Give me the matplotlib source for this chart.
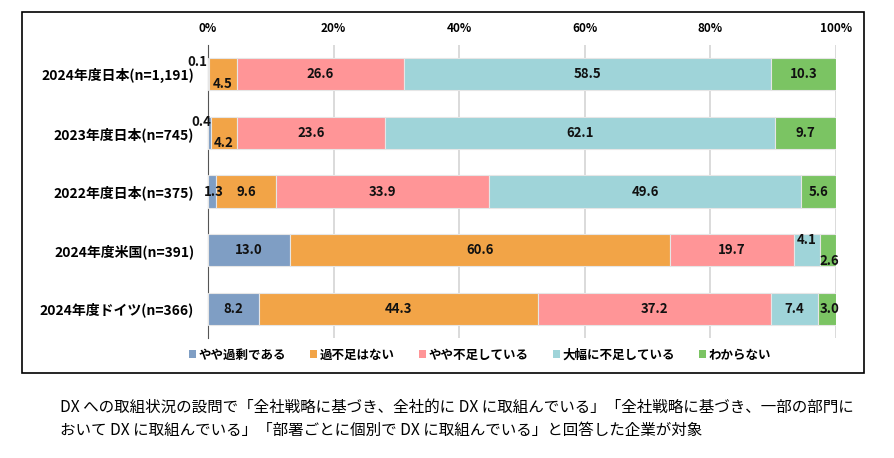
import numpy as np
import matplotlib.pyplot as plt
from matplotlib.patches import Rectangle, Patch

plt.rcParams['font.family'] = ['Noto Sans CJK JP', 'DejaVu Sans']

# データ
categories = ['2024年度日本(n=1,191)', '2023年度日本(n=745)', '2022年度日本(n=375)',
              '2024年度米国(n=391)', '2024年度ドイツ(n=366)']
series = ['やや過剰である', '過不足はない', 'やや不足している', '大幅に不足している', 'わからない']
values = [
    [0.1, 4.5, 26.6, 58.5, 10.3],
    [0.4, 4.2, 23.6, 62.1, 9.7],
    [1.3, 9.6, 33.9, 49.6, 5.6],
    [13.0, 60.6, 19.7, 4.1, 2.6],
    [8.2, 44.3, 37.2, 7.4, 3.0],
]
colors = ['#7f9ec4', '#f2a447', '#ff9597', '#9fd4d9', '#7bc463']
caption = ('DX への取組状況の設問で「全社戦略に基づき、全社的に DX に取組んでいる」「全社戦略に基づき、一部の部門に\n'
           'おいて DX に取組んでいる」「部署ごとに個別で DX に取組んでいる」と回答した企業が対象')

# 小さい値のラベル位置のずらし (points)
offsets = {
    (0, 0): (-8, 9), (0, 1): (0, -7),
    (1, 0): (-6, 8), (1, 1): (0, -7),
    (2, 0): (1, 0),
    (3, 3): (0, 7), (3, 4): (1, -8),
    (4, 4): (2, 0),
}

fig = plt.figure(figsize=(8.95, 4.58), dpi=100)
ax = fig.add_axes([208 / 895, 1 - 338 / 458, 628 / 895, 293 / 458])

data = np.array(values)
left = np.zeros(len(categories))
y = np.arange(len(categories))
for j, name in enumerate(series):
    ax.barh(y, data[:, j], left=left, height=0.55, color=colors[j],
            edgecolor='#e6e6e6', linewidth=0.8, label=name, zorder=3)
    for i in range(len(categories)):
        dx, dy = offsets.get((i, j), (0, 0))
        ax.annotate(f'{data[i, j]:.1f}', (left[i] + data[i, j] / 2, y[i]),
                    xytext=(dx, dy), textcoords='offset points',
                    ha='center', va='center', fontsize=9.5, fontweight='bold',
                    color='#111111', zorder=5)
    left += data[:, j]

ax.set_xlim(0, 100)
ax.set_ylim(len(categories) - 0.5, -0.5)
ax.set_xticks(np.arange(0, 101, 20))
ax.set_xticklabels([f'{v}%' for v in range(0, 101, 20)], fontsize=8.5, fontweight='bold')
ax.xaxis.tick_top()
ax.tick_params(axis='x', length=0, pad=7)
ax.tick_params(axis='y', length=0, pad=10)
ax.set_yticks(y)
ax.set_yticklabels(categories, fontsize=10, fontweight='bold')
ax.grid(axis='x', color='#d4d4d4', linewidth=1.2, zorder=0)
for s in ['top', 'right', 'bottom']:
    ax.spines[s].set_visible(False)
ax.spines['left'].set_color('#555555')

handles = [Patch(facecolor=c, edgecolor='none') for c in colors]
fig.legend(handles, series, loc='center', bbox_to_anchor=(480 / 895, 1 - 355 / 458),
           ncol=5, frameon=False, handlelength=0.6, handleheight=0.6,
           handletextpad=0.2, columnspacing=1.9,
           prop={'weight': 'bold', 'size': 9})

fig.patches.append(Rectangle((22 / 895, 1 - 373 / 458), 842 / 895, 361 / 458,
                             transform=fig.transFigure, fill=False,
                             edgecolor='black', linewidth=1.2))

fig.text(60 / 895, 1 - 419 / 458, caption, fontsize=11.2, va='center', ha='left',
         linespacing=1.45)

fig.savefig('out.png', dpi=100)
